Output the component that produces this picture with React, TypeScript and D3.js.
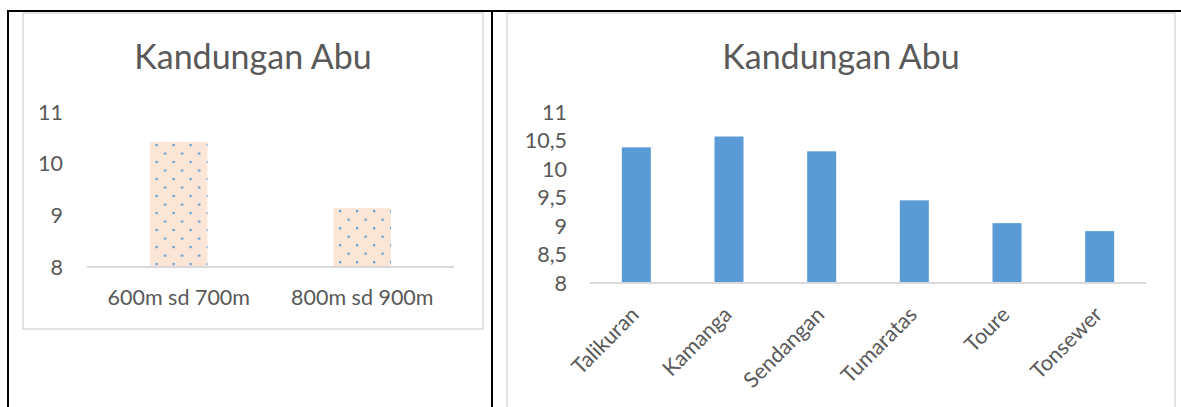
import React from "react";
import * as d3 from "d3";

const leftCategories = ["600m sd 700m", "800m sd 900m"];
const leftValues = [10.42, 9.14];
const leftTicks = [8, 9, 10, 11];

const rightCategories = ["Talikuran", "Kamanga", "Sendangan", "Tumaratas", "Toure", "Tonsewer"];
const rightValues = [10.38, 10.57, 10.31, 9.45, 9.05, 8.91];
const rightTicks = [8, 8.5, 9, 9.5, 10, 10.5, 11];

const title = "Kandungan Abu";
const FONT = "Lato, 'Open Sans', sans-serif";
const TXT = "#595959";
const GRID = "#D9D9D9";
const BLUE = "#5B9BD5";
const PEACH = "#FBE5D6";

const fmt = (v: number) => String(v).replace(".", ",");

export default function App() {
  const gap = 0.687;
  // left chart
  const lx = d3.scaleBand<string>().domain(leftCategories).range([87, 454]).paddingInner(gap).paddingOuter(gap / 2);
  const ly = d3.scaleLinear().domain([8, 11]).range([267, 112]);
  // right chart
  const rx = d3.scaleBand<string>().domain(rightCategories).range([590, 1146]).paddingInner(gap).paddingOuter(gap / 2);
  const ry = d3.scaleLinear().domain([8, 11]).range([283, 112]);

  return (
    <svg width={1181} height={407} style={{ position: "absolute", left: 0, top: 0 }} fontFamily={FONT}>
      <defs>
        {leftCategories.map((c, i) => {
          const x0 = lx(c)!;
          const y0 = ly(leftValues[i]);
          return (
            <pattern key={c} id={`dots${i}`} patternUnits="userSpaceOnUse" x={x0 + 5.5} y={y0 + 2} width={17} height={17}>
              <rect x={0} y={0} width={17} height={17} fill={PEACH} />
              <rect x={0} y={0} width={2.2} height={2.2} fill={BLUE} />
              <rect x={8.5} y={8.5} width={2.2} height={2.2} fill={BLUE} />
            </pattern>
          );
        })}
      </defs>
      <rect x={0} y={0} width={1181} height={407} fill="#fff" />
      {/* table borders */}
      <line x1={7} x2={1181} y1={11} y2={11} stroke="#000" strokeWidth={2} />
      <line x1={8} x2={8} y1={10} y2={407} stroke="#000" strokeWidth={2} />
      <line x1={492} x2={492} y1={10} y2={407} stroke="#000" strokeWidth={2} />

      {/* left chart box */}
      <rect x={23} y={13} width={460} height={316} fill="none" stroke={GRID} strokeWidth={1.5} />
      <text x={253} y={69} textAnchor="middle" fontSize={34} fill={TXT}>{title}</text>
      {leftTicks.map((t) => (
        <text key={t} x={63} y={ly(t)} dy="0.36em" textAnchor="end" fontSize={21.5} fill={TXT}>{fmt(t)}</text>
      ))}
      {leftCategories.map((c, i) => (
        <rect key={c} x={lx(c)} y={ly(leftValues[i])} width={lx.bandwidth()} height={ly(8) - ly(leftValues[i])} fill={`url(#dots${i})`} />
      ))}
      <line x1={87} x2={454} y1={ly(8)} y2={ly(8)} stroke={GRID} strokeWidth={2} />
      {leftCategories.map((c) => (
        <text key={c} x={lx(c)! + lx.bandwidth() / 2} y={305} textAnchor="middle" fontSize={21.5} fill={TXT}>{c}</text>
      ))}

      {/* right chart box */}
      <rect x={507} y={13} width={668} height={420} fill="none" stroke={GRID} strokeWidth={1.5} />
      <text x={841} y={69} textAnchor="middle" fontSize={34} fill={TXT}>{title}</text>
      {rightTicks.map((t) => (
        <text key={t} x={567} y={ry(t)} dy="0.36em" textAnchor="end" fontSize={21.5} fill={TXT}>{fmt(t)}</text>
      ))}
      {rightCategories.map((c, i) => (
        <rect key={c} x={rx(c)} y={ry(rightValues[i])} width={rx.bandwidth()} height={ry(8) - ry(rightValues[i])} fill={BLUE} />
      ))}
      <line x1={590} x2={1146} y1={ry(8)} y2={ry(8)} stroke={GRID} strokeWidth={2} />
      {rightCategories.map((c) => {
        const cx = rx(c)! + rx.bandwidth() / 2 + 4;
        const cy = 316;
        return (
          <text key={c} x={cx} y={cy} textAnchor="end" fontSize={21.5} fill={TXT} transform={`rotate(-45 ${cx} ${cy})`}>{c}</text>
        );
      })}
    </svg>
  );
}
